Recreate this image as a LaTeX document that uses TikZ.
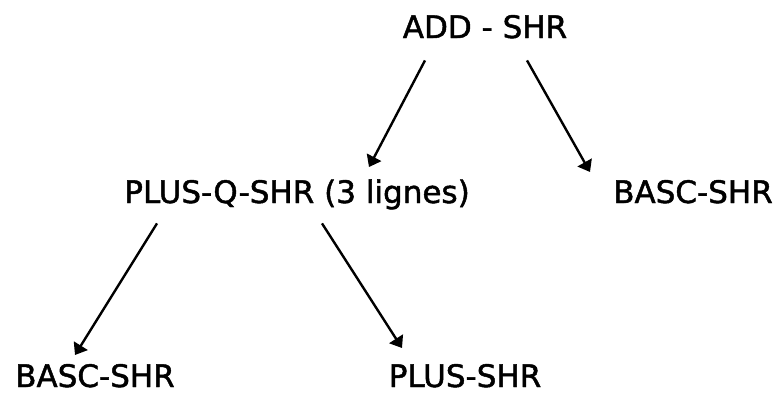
\documentclass[tikz,border=0pt]{standalone}
\usepackage{fontspec}
\setmainfont{DejaVu Sans}[BoldFont={DejaVu Sans},BoldFeatures={FakeBold=1.5}]
\usetikzlibrary{arrows.meta,calc}
\begin{document}
\begin{tikzpicture}[
    x=0.5pt, y=-0.5pt,
    lbl/.style={inner sep=0pt, anchor=base, text height=11.3pt, text depth=0pt,
                font=\fontsize{15.5}{18}\selectfont\bfseries},
    arr/.style={-{Triangle[width=8pt,length=5.5pt]}, line width=1.2pt}
]
\useasboundingbox (0,0) rectangle (776,392);
\node[lbl] (add)   at (485,38)  {ADD - SHR};
\node[lbl] (plusq) at (297,203) {PLUS-Q-SHR (3 lignes)};
\node[lbl] (bascr) at (693,203) {BASC-SHR};
\node[lbl] (bascl) at (95,387)  {BASC-SHR};
\node[lbl] (plus)  at (465,387) {PLUS-SHR};

\draw[arr] ($(add.south)+(-60,22)$) -- ($(plusq.north)+(72,-13)$);
\draw[arr] ($(add.south)+(42,22)$) -- ($(bascr.north)+(-103,-8)$);
\draw[arr] ($(plusq.south)+(-140,20)$) -- ($(bascl.north)+(-20,-9)$);
\draw[arr] ($(plusq.south)+(25,20)$) -- ($(plus.north)+(-63,-16)$);
\end{tikzpicture}
\end{document}
